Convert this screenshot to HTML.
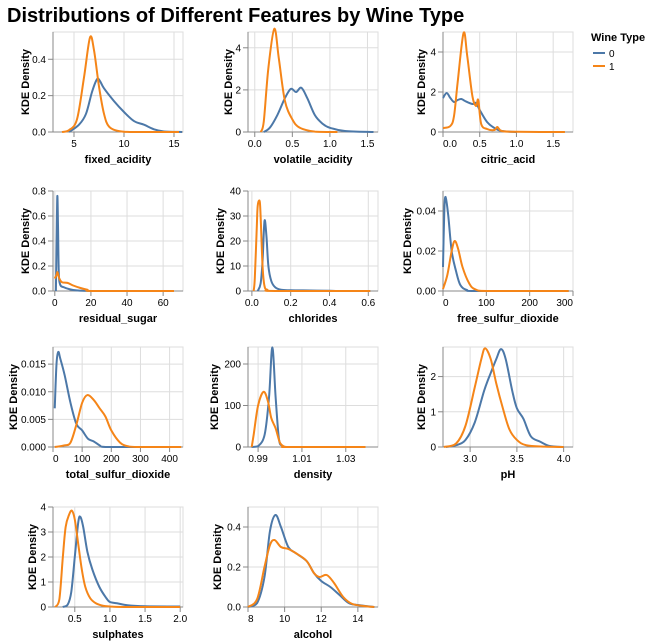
<!DOCTYPE html>
<html><head><meta charset="utf-8">
<style>
html,body{margin:0;padding:0;background:#fff;}
svg{display:block;font-family:"Liberation Sans",Arial,sans-serif;}
</style></head>
<body>
<svg id="s" width="652" height="644" viewBox="0 0 652 644" xmlns="http://www.w3.org/2000/svg">
<text x="7" y="22" font-size="20" font-weight="bold" fill="#000">Distributions of Different Features by Wine Type</text>
<text x="591" y="41" font-size="11" font-weight="bold" fill="#000">Wine Type</text>
<line x1="593" y1="53" x2="605" y2="53" stroke="#4c78a8" stroke-width="2"/>
<text x="609" y="57" font-size="10" fill="#000">0</text>
<line x1="593" y1="66" x2="605" y2="66" stroke="#f58518" stroke-width="2"/>
<text x="609" y="70" font-size="10" fill="#000">1</text>
</svg>
<script>
var C=[
{n:"fixed_acidity",L:53,T:32,xd:[2.9,15.9],yd:[0,0.55],xt:[5,10,15],yt:[0,0.2,0.4],yf:1,to:28,
b:[[4.5,0],[5.5,0.04],[6.2,0.1],[6.8,0.22],[7.3,0.29],[7.6,0.28],[8,0.24],[9,0.17],[10,0.11],[11,0.06],[12,0.04],[13,0.015],[14,0.003],[15.8,0]],
o:[[3.8,0],[4.5,0.01],[5.3,0.07],[6,0.3],[6.6,0.52],[7,0.45],[7.5,0.25],[8,0.1],[8.5,0.03],[9.5,0.005],[11,0],[15.5,0]]},
{n:"volatile_acidity",L:248,T:32,xd:[-0.09,1.64],yd:[0,4.75],xt:[0,0.5,1,1.5],yt:[0,2,4],yf:0,xf:1,to:20,
b:[[0.12,0],[0.2,0.2],[0.3,0.8],[0.4,1.6],[0.48,2.05],[0.55,1.9],[0.62,2.1],[0.7,1.6],[0.8,0.8],[0.9,0.4],[1.0,0.2],[1.2,0.05],[1.58,0]],
o:[[0.08,0],[0.12,0.5],[0.18,3],[0.26,4.9],[0.32,3.5],[0.4,1.5],[0.5,0.6],[0.6,0.2],[0.8,0.02],[1.1,0]]},
{n:"citric_acid",L:443,T:32,xd:[0,1.77],yd:[0,5],xt:[0,0.5,1,1.5],yt:[0,2,4],yf:0,xf:1,to:22,
b:[[0,1.7],[0.05,1.95],[0.1,1.7],[0.15,1.5],[0.2,1.6],[0.25,1.65],[0.3,1.55],[0.4,1.4],[0.45,1.45],[0.5,1.1],[0.6,0.5],[0.7,0.2],[0.8,0.05],[1.0,0]],
o:[[0,0.2],[0.1,0.3],[0.15,0.8],[0.2,2.5],[0.28,4.95],[0.33,3.8],[0.4,1.8],[0.45,1.3],[0.48,1.6],[0.52,0.4],[0.6,0.15],[0.7,0.1],[0.74,0.25],[0.8,0.05],[1.0,0.01],[1.66,0]]},
{n:"residual_sugar",L:53,T:191,xd:[-1,71],yd:[0,0.8],xt:[0,20,40,60],yt:[0,0.2,0.4,0.6,0.8],yf:1,to:28,
b:[[0.6,0],[1.0,0.4],[1.4,0.76],[1.8,0.5],[2.2,0.15],[3,0.05],[5,0.03],[8,0.015],[12,0.005],[20,0],[32,0]],
o:[[0,0.1],[1,0.13],[1.5,0.15],[2.5,0.1],[4,0.07],[7,0.065],[10,0.045],[14,0.025],[18,0.01],[22,0],[66,0]]},
{n:"chlorides",L:248,T:191,xd:[-0.02,0.65],yd:[0,40],xt:[0,0.2,0.4,0.6],yt:[0,10,20,30,40],yf:0,to:28,
b:[[0.03,0],[0.045,3],[0.055,12],[0.065,28],[0.075,22],[0.085,10],[0.1,4],[0.12,1.5],[0.15,0.5],[0.2,0.3],[0.3,0.2],[0.4,0.1],[0.45,0],[0.61,0]],
o:[[0.009,0],[0.015,5],[0.025,25],[0.03,34],[0.04,36],[0.045,30],[0.055,10],[0.065,2],[0.08,0.5],[0.12,0],[0.61,0]]},
{n:"free_sulfur_dioxide",L:443,T:191,xd:[0,300],yd:[0,0.05],xt:[0,100,200,300],yt:[0,0.02,0.04],ytf:2,yf:0,xf:1,to:36,
b:[[0,0.012],[3,0.04],[6,0.047],[12,0.038],[20,0.02],[30,0.01],[40,0.003],[55,0.0005],[80,0],[290,0]],
o:[[0,0.001],[10,0.008],[20,0.02],[27,0.025],[35,0.021],[45,0.012],[60,0.004],[75,0.0008],[110,0],[290,0]]},
{n:"total_sulfur_dioxide",L:53,T:347,xd:[0,446],yd:[0,0.0181],xt:[0,100,200,300,400],yt:[0,0.005,0.01,0.015],ytf:3,yf:0,xf:1,to:40,
b:[[6,0.007],[12,0.015],[18,0.0172],[25,0.016],[40,0.013],[60,0.008],[80,0.0042],[100,0.003],[120,0.0015],[140,0.001],[160,0.0003],[180,0],[300,0]],
o:[[6,0],[40,0.0003],[60,0.0008],[80,0.004],[100,0.008],[118,0.0094],[140,0.0085],[160,0.007],[180,0.0055],[200,0.003],[230,0.0008],[260,0.0001],[300,0],[440,0]]},
{n:"density",L:248,T:347,xd:[0.9854,1.0447],yd:[0,241],xt:[0.99,1.01,1.03],yt:[0,100,200],xtf:2,yf:0,to:34,
b:[[0.987,0],[0.99,2],[0.993,30],[0.995,120],[0.9965,240],[0.998,120],[0.9995,20],[1.001,3],[1.003,0],[1.01,0]],
o:[[0.9871,0],[0.988,30],[0.99,100],[0.9925,133],[0.9945,110],[0.996,70],[0.998,45],[1.0,10],[1.002,1],[1.004,0],[1.039,0]]},
{n:"pH",L:443,T:347,xd:[2.71,4.1],yd:[0,2.84],xt:[3,3.5,4],xtf:1,yt:[0,1,2],yf:0,to:22,
b:[[2.74,0],[2.85,0.05],[2.95,0.2],[3.05,0.7],[3.15,1.6],[3.22,2.1],[3.28,2.5],[3.33,2.78],[3.38,2.5],[3.45,1.6],[3.5,1.1],[3.57,0.8],[3.65,0.3],[3.75,0.15],[3.85,0.03],[4.0,0]],
o:[[2.72,0],[2.85,0.1],[2.95,0.6],[3.05,1.7],[3.12,2.5],[3.16,2.8],[3.22,2.5],[3.28,1.8],[3.35,1.1],[3.42,0.5],[3.5,0.2],[3.6,0.05],[3.8,0.01],[4.0,0]]},
{n:"sulphates",L:53,T:507,xd:[0.19,2.04],yd:[0,4],xt:[0.5,1,1.5,2],xtf:1,yt:[0,1,2,3,4],yf:0,to:21,
b:[[0.33,0],[0.4,0.1],[0.45,0.6],[0.5,2],[0.55,3.4],[0.58,3.6],[0.62,3.2],[0.68,2.2],[0.75,1.5],[0.85,0.8],[0.95,0.35],[1.0,0.2],[1.1,0.15],[1.25,0.07],[1.5,0.03],[2.0,0.02]],
o:[[0.22,0],[0.28,0.3],[0.33,2],[0.37,3.2],[0.42,3.7],[0.46,3.85],[0.5,3.5],[0.55,2.5],[0.6,1.5],[0.65,0.8],[0.72,0.35],[0.8,0.15],[0.9,0.05],[1.0,0.02],[1.2,0],[2.0,0]]},
{n:"alcohol",L:248,T:507,xd:[8,15.1],yd:[0,0.5],xt:[8,10,12,14],yt:[0,0.2,0.4],yf:1,xf:1,to:31,
b:[[8,0],[8.5,0.02],[8.9,0.15],[9.2,0.38],[9.5,0.46],[9.8,0.4],[10.2,0.3],[10.6,0.27],[11.2,0.23],[11.6,0.17],[12,0.13],[12.5,0.1],[13,0.06],[13.5,0.02],[14,0.01],[14.9,0]],
o:[[8,0],[8.5,0.04],[8.9,0.2],[9.2,0.31],[9.45,0.335],[9.8,0.3],[10.2,0.29],[10.6,0.27],[11.2,0.23],[11.6,0.17],[11.9,0.15],[12.3,0.16],[12.7,0.12],[13.2,0.05],[13.7,0.015],[14.5,0.003],[14.9,0]]}
];
var s=document.getElementById('s'),NS="http://www.w3.org/2000/svg",W=130,H=100;
function el(t,a,txt){var e=document.createElementNS(NS,t);for(var k in a)e.setAttribute(k,a[k]);if(txt!=null)e.textContent=txt;s.appendChild(e);return e;}
function fmt(v,f){return f==null?String(v):v.toFixed(f);}
C.forEach(function(c){
 var L=c.L,T=c.T,B=T+H,R=L+W;
 var X=function(v){return L+(v-c.xd[0])/(c.xd[1]-c.xd[0])*W;};
 var Y=function(v){return B-(v-c.yd[0])/(c.yd[1]-c.yd[0])*H;};
 el('rect',{x:L,y:T,width:W,height:H,fill:'none',stroke:'#ddd'});
 c.xt.forEach(function(v){var x=X(v);el('line',{x1:x,y1:T,x2:x,y2:B,stroke:'#ddd'});});
 c.yt.forEach(function(v){var y=Y(v);el('line',{x1:L,y1:y,x2:R,y2:y,stroke:'#ddd'});});
 el('line',{x1:L,y1:T,x2:L,y2:B,stroke:'#888'});
 el('line',{x1:L,y1:B,x2:R,y2:B,stroke:'#888'});
 c.xt.forEach(function(v){var x=X(v);el('line',{x1:x,y1:B,x2:x,y2:B+5,stroke:'#888'});
  var anc='middle';if(Math.abs(x-L)<1)anc='start';if(Math.abs(x-R)<1)anc='end';
  el('text',{x:x,y:B+15,'font-size':10,fill:'#000','text-anchor':anc},fmt(v,c.xtf!=null?c.xtf:(c.xt.some(function(t){return t%1;})?1:null)));});
 c.yt.forEach(function(v){var y=Y(v);el('line',{x1:L-5,y1:y,x2:L,y2:y,stroke:'#888'});
  var f=c.ytf!=null?c.ytf:(c.yt.some(function(t){return t%1;})?1:null);
  el('text',{x:L-7,y:y+3.5,'font-size':10,fill:'#000','text-anchor':'end'},fmt(v,f));});
 el('text',{x:L+W/2,y:B+31,'font-size':11,'font-weight':'bold',fill:'#000','text-anchor':'middle'},c.n);
 var tx=L-c.to+4;el('text',{x:tx,y:T+H/2,'font-size':11,'font-weight':'bold',fill:'#000','text-anchor':'middle',transform:'rotate(-90 '+tx+' '+(T+H/2)+')'},'KDE Density');
 [['b','#4c78a8'],['o','#f58518']].forEach(function(p){
  var pts=c[p[0]].map(function(q){return [X(q[0]),Y(q[1])];});
  var d='M'+pts[0][0]+','+pts[0][1];
  for(var i=0;i<pts.length-1;i++){var p0=pts[i-1]||pts[i],p1=pts[i],p2=pts[i+1],p3=pts[i+2]||p2;
   var c1x=p1[0]+(p2[0]-p0[0])/6,c1y=p1[1]+(p2[1]-p0[1])/6,c2x=p2[0]-(p3[0]-p1[0])/6,c2y=p2[1]-(p3[1]-p1[1])/6;
   c1y=Math.min(c1y,B);c2y=Math.min(c2y,B);
   d+=' C'+c1x+','+c1y+' '+c2x+','+c2y+' '+p2[0]+','+p2[1];}
  el('path',{d:d,fill:'none',stroke:p[1],'stroke-width':2,'stroke-linejoin':'round'});
 });
});
</script>
</body></html>
